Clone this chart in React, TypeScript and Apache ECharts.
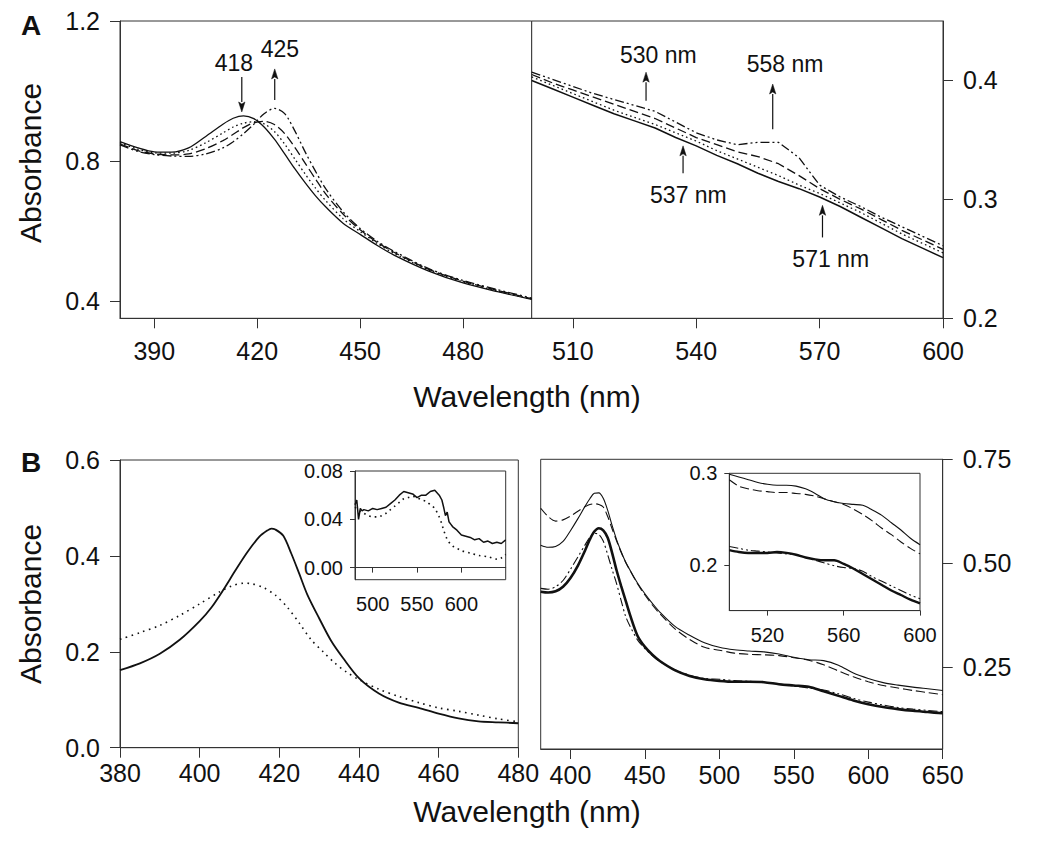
import React, { useEffect, useRef } from 'react';
import * as echarts from 'echarts';

// ---------- Panel A, left (Soret region) ----------
const aLeftNm = [380, 385, 390, 395, 400, 405, 410, 413, 416, 419, 422, 425, 428, 431, 434, 437, 440, 445, 450, 455, 460, 470, 480, 490, 500];
const aLeftSolid = [0.855, 0.838, 0.826, 0.825, 0.837, 0.87, 0.905, 0.922, 0.929, 0.921, 0.897, 0.862, 0.82, 0.777, 0.737, 0.7, 0.668, 0.622, 0.59, 0.558, 0.53, 0.485, 0.451, 0.426, 0.404];
const aLeftDotted = [0.852, 0.834, 0.823, 0.822, 0.83, 0.852, 0.88, 0.897, 0.908, 0.912, 0.906, 0.884, 0.848, 0.805, 0.762, 0.722, 0.686, 0.635, 0.598, 0.564, 0.535, 0.488, 0.454, 0.428, 0.405];
const aLeftDashed = [0.849, 0.83, 0.82, 0.817, 0.82, 0.835, 0.858, 0.876, 0.895, 0.909, 0.913, 0.904, 0.878, 0.838, 0.793, 0.748, 0.705, 0.648, 0.603, 0.567, 0.538, 0.49, 0.456, 0.43, 0.406];
const aLeftDashDot = [0.846, 0.828, 0.818, 0.814, 0.813, 0.82, 0.837, 0.855, 0.878, 0.905, 0.935, 0.95, 0.935, 0.885, 0.825, 0.77, 0.72, 0.655, 0.607, 0.57, 0.541, 0.492, 0.458, 0.432, 0.408];

// ---------- Panel A, right (visible region) ----------
const aRightNm = [500, 505, 510, 515, 520, 525, 530, 535, 540, 545, 550, 555, 560, 565, 570, 575, 580, 585, 590, 595, 600];
const aRightSolid = [0.4, 0.393, 0.386, 0.379, 0.372, 0.366, 0.36, 0.352, 0.345, 0.337, 0.33, 0.322, 0.315, 0.309, 0.302, 0.294, 0.285, 0.276, 0.267, 0.259, 0.251];
const aRightDotted = [0.403, 0.396, 0.389, 0.382, 0.375, 0.369, 0.363, 0.356, 0.349, 0.341, 0.334, 0.327, 0.32, 0.312, 0.305, 0.297, 0.289, 0.28, 0.271, 0.263, 0.255];
const aRightDashed = [0.405, 0.398, 0.392, 0.386, 0.38, 0.374, 0.368, 0.36, 0.352, 0.346, 0.34, 0.336, 0.33, 0.32, 0.309, 0.3, 0.292, 0.283, 0.274, 0.266, 0.258];
const aRightDashDot = [0.407, 0.401, 0.395, 0.389, 0.384, 0.379, 0.374, 0.365, 0.356, 0.35, 0.346, 0.348, 0.348, 0.335, 0.312, 0.302, 0.294, 0.285, 0.277, 0.269, 0.261];

// ---------- Panel B, left ----------
const bLeftSolidNm = [380, 385, 390, 395, 400, 403, 406, 409, 412, 415, 417, 418, 419, 421, 423, 425, 427, 430, 433, 436, 440, 445, 450, 455, 460, 465, 470, 475, 480];
const bLeftSolid = [0.162, 0.176, 0.196, 0.225, 0.264, 0.293, 0.33, 0.37, 0.408, 0.44, 0.453, 0.457, 0.455, 0.442, 0.405, 0.363, 0.32, 0.27, 0.223, 0.187, 0.145, 0.113, 0.094, 0.083, 0.071, 0.061, 0.055, 0.053, 0.051];
const bLeftDottedNm = [380, 385, 390, 395, 400, 405, 408, 411, 413, 416, 419, 422, 425, 428, 431, 434, 437, 440, 445, 450, 455, 460, 465, 470, 475, 480];
const bLeftDotted = [0.226, 0.24, 0.255, 0.276, 0.3, 0.325, 0.337, 0.343, 0.342, 0.334, 0.318, 0.293, 0.26, 0.225, 0.2, 0.176, 0.157, 0.142, 0.122, 0.107, 0.094, 0.083, 0.076, 0.068, 0.06, 0.054];

// inset of panel B left
const bInsetSolidNm = [480, 482, 484, 486, 488, 490, 495, 500, 505, 510, 515, 520, 525, 530, 535, 540, 545, 550, 555, 560, 565, 570, 575, 578, 580, 582, 584, 586, 588, 590, 595, 600, 605, 610, 615, 620, 625, 630, 635, 640, 645, 650];
const bInsetSolid = [0.052, 0.056, 0.04, 0.049, 0.047, 0.048, 0.047, 0.049, 0.048, 0.049, 0.05, 0.053, 0.056, 0.06, 0.063, 0.062, 0.061, 0.058, 0.06, 0.06, 0.063, 0.064, 0.06, 0.056, 0.05, 0.043, 0.046, 0.038, 0.036, 0.034, 0.031, 0.027, 0.026, 0.025, 0.023, 0.024, 0.021, 0.022, 0.02, 0.021, 0.02, 0.023];
const bInsetDottedNm = [480, 485, 490, 495, 500, 505, 510, 515, 520, 525, 530, 535, 540, 545, 550, 555, 560, 565, 570, 575, 578, 580, 583, 585, 590, 595, 600, 610, 620, 630, 640, 645, 650];
const bInsetDotted = [0.05, 0.047, 0.045, 0.043, 0.042, 0.042, 0.043, 0.045, 0.048, 0.051, 0.054, 0.057, 0.058, 0.059, 0.058, 0.056, 0.055, 0.052, 0.049, 0.042, 0.036, 0.031, 0.025, 0.022, 0.018, 0.016, 0.014, 0.012, 0.01, 0.009, 0.007, 0.008, 0.011];

// ---------- Panel B, right ----------
const bRightNm = [380, 385, 390, 395, 400, 405, 410, 413, 416, 419, 422, 425, 428, 431, 434, 437, 440, 445, 450, 455, 460, 470, 480, 490, 500, 510, 520, 530, 540, 550, 560, 570, 580, 590, 600, 610, 620, 630, 640, 650];
const bRightThin = [0.543, 0.538, 0.54, 0.552, 0.578, 0.607, 0.638, 0.655, 0.668, 0.669, 0.656, 0.627, 0.59, 0.556, 0.528, 0.503, 0.483, 0.452, 0.426, 0.403, 0.382, 0.348, 0.326, 0.308, 0.297, 0.291, 0.288, 0.286, 0.281, 0.273, 0.267, 0.265, 0.254, 0.235, 0.222, 0.212, 0.206, 0.201, 0.197, 0.193];
const bRightDashed = [0.632, 0.612, 0.601, 0.604, 0.613, 0.625, 0.636, 0.641, 0.643, 0.641, 0.635, 0.612, 0.582, 0.553, 0.526, 0.502, 0.482, 0.45, 0.423, 0.399, 0.378, 0.342, 0.316, 0.297, 0.29, 0.283, 0.28, 0.279, 0.277, 0.272, 0.266, 0.255, 0.24, 0.226, 0.214, 0.205, 0.199, 0.193, 0.188, 0.183];
const bRightThick = [0.431, 0.429, 0.432, 0.443, 0.464, 0.494, 0.532, 0.557, 0.576, 0.584, 0.579, 0.561, 0.524, 0.482, 0.445, 0.41, 0.375, 0.325, 0.298, 0.279, 0.264, 0.242, 0.228, 0.22, 0.216, 0.214, 0.214, 0.213, 0.208, 0.205, 0.202, 0.191, 0.18, 0.169, 0.16, 0.153, 0.148, 0.144, 0.141, 0.138];
const bRightDashDot = [0.439, 0.437, 0.443, 0.458, 0.485, 0.515, 0.545, 0.562, 0.572, 0.569, 0.553, 0.52, 0.484, 0.45, 0.41, 0.372, 0.348, 0.315, 0.294, 0.277, 0.263, 0.243, 0.23, 0.222, 0.22, 0.217, 0.215, 0.213, 0.209, 0.204, 0.199, 0.194, 0.185, 0.174, 0.165, 0.158, 0.152, 0.148, 0.145, 0.142];

// inset of panel B right
const bInset2Nm = [500, 505, 510, 515, 520, 525, 530, 535, 540, 545, 550, 555, 560, 565, 570, 575, 580, 585, 590, 595, 600];
const bInset2Thin = [0.299, 0.296, 0.293, 0.29, 0.288, 0.287, 0.287, 0.286, 0.283, 0.278, 0.272, 0.269, 0.267, 0.266, 0.265, 0.26, 0.254, 0.246, 0.238, 0.229, 0.222];
const bInset2Dashed = [0.293, 0.286, 0.283, 0.281, 0.28, 0.279, 0.279, 0.278, 0.277, 0.275, 0.272, 0.269, 0.266, 0.261, 0.255, 0.248, 0.24, 0.233, 0.225, 0.218, 0.212];
const bInset2Thick = [0.216, 0.214, 0.213, 0.213, 0.213, 0.214, 0.213, 0.211, 0.208, 0.206, 0.205, 0.205, 0.201, 0.196, 0.19, 0.184, 0.178, 0.172, 0.167, 0.162, 0.158];
const bInset2DashDot = [0.22, 0.218, 0.216, 0.215, 0.214, 0.213, 0.212, 0.211, 0.208, 0.205, 0.202, 0.199, 0.197, 0.196, 0.193, 0.187, 0.182, 0.177, 0.172, 0.167, 0.163];

// ---------- tick values ----------
const aLeftXTicks = [390, 420, 450, 480];
const aRightXTicks = [510, 540, 570, 600];
const aLeftYTicks = [0.4, 0.8, 1.2];
const aRightYTicks = [0.2, 0.3, 0.4];
const bInsetXTicks = [500, 550, 600];
const bInsetYTicks = [0, 0.04, 0.08];
const bRightXTicks = [400, 450, 500, 550, 600, 650];
const bRightYTicks = [0.25, 0.5, 0.75];
const bInset2XTicks = [520, 560, 600];
const bInset2YTicks = [0.2, 0.3];

// ---------- annotations (data coords) ----------
const annotations = [
  { grid: 0, text: '418', tx: 413.2, ty: 1.081, ax: 415.5, y0: 1.04, y1: 0.94 },
  { grid: 0, text: '425', tx: 426.6, ty: 1.121, ax: 425.1, y0: 0.974, y1: 1.063 },
  { grid: 1, text: '530 nm', tx: 530.8, ty: 0.421, ax: 527.8, y0: 0.383, y1: 0.407 },
  { grid: 1, text: '558 nm', tx: 561.6, ty: 0.414, ax: 558.6, y0: 0.359, y1: 0.397 },
  { grid: 1, text: '537 nm', tx: 538.1, ty: 0.304, ax: 536.8, y0: 0.322, y1: 0.345 },
  { grid: 1, text: '571 nm', tx: 572.7, ty: 0.25, ax: 570.7, y0: 0.268, y1: 0.295 },
];

const FONT = '"Liberation Sans", Arial, Helvetica, sans-serif';
const INK = '#111';
const FRAME = '#333';

const zip = (xs: number[], ys: number[]) => xs.map((x, i) => [x, ys[i]]);

const DOT: number[] = [1.6, 3];
const DASH: number[] = [9, 4];
const DASHDOT: number[] = [9, 3, 2, 3, 2, 3];

function line(i: number, data: number[][], type: any, width = 1.3, smooth: number | boolean = 0.3) {
  return {
    type: 'line',
    xAxisIndex: i,
    yAxisIndex: i,
    data,
    symbol: 'none',
    showSymbol: false,
    smooth,
    silent: true,
    clip: true,
    lineStyle: { color: INK, width, type, cap: 'butt' },
  };
}

function xAxis(i: number, min: number, max: number, ticks: number[] | null, opts: any = {}) {
  const small = !!opts.small;
  const ax: any = {
    type: 'value',
    gridIndex: i,
    min,
    max,
    axisLine: { show: true, lineStyle: { color: FRAME, width: 1 } },
    axisTick: { show: true, length: small ? 5 : 10, lineStyle: { color: FRAME, width: 1 } },
    axisLabel: {
      show: true,
      color: INK,
      fontFamily: FONT,
      fontSize: small ? 20 : 25,
      margin: opts.margin != null ? opts.margin : small ? 14 : 20,
      formatter: (v: number) => String(Math.round(v)),
    },
    splitLine: { show: false },
  };
  if (ticks) {
    ax.axisTick.customValues = ticks;
    ax.axisLabel.customValues = ticks;
  } else if (opts.interval) {
    ax.interval = opts.interval;
  }
  return ax;
}

function yAxis(i: number, min: number, max: number, ticks: number[] | null, digits: number, opts: any = {}) {
  const small = !!opts.small;
  const ax: any = {
    type: 'value',
    gridIndex: i,
    min,
    max,
    position: opts.right ? 'right' : 'left',
    axisLine: { show: true, onZero: false, lineStyle: { color: FRAME, width: 1 } },
    axisTick: { show: true, length: small ? 5 : 10, lineStyle: { color: FRAME, width: 1 } },
    axisLabel: {
      show: true,
      color: INK,
      fontFamily: FONT,
      fontSize: small ? 20 : 25,
      margin: small ? 12 : 20,
      formatter: (v: number) => v.toFixed(digits),
    },
    splitLine: { show: false },
  };
  if (ticks) {
    ax.axisTick.customValues = ticks;
    ax.axisLabel.customValues = ticks;
  } else if (opts.interval) {
    ax.interval = opts.interval;
  }
  return ax;
}

const grids = [
  { left: 120, top: 21, width: 411.7, height: 297.3 },
  { left: 531.7, top: 21, width: 411.3, height: 297.3 },
  { left: 120, top: 460, width: 398.3, height: 287.7 },
  { left: 355, top: 471, width: 150.7, height: 108.7 },
  { left: 540.7, top: 459.3, width: 402, height: 289.7 },
  { left: 729.3, top: 473.3, width: 190.7, height: 137.3 },
].map((g) => ({ ...g, show: true, borderColor: FRAME, borderWidth: 1, backgroundColor: '#fff', containLabel: false }));

function staticTexts() {
  const t = (text: string, x: number, y: number, size: number, extra: any = {}) => ({
    type: 'text',
    x,
    y,
    rotation: extra.rotation || 0,
    silent: true,
    z: 100,
    style: {
      text,
      fill: INK,
      font: `${extra.bold ? 'bold ' : ''}${size}px ${FONT}`,
      align: 'center',
      verticalAlign: 'middle',
      textAlign: 'center',
      textVerticalAlign: 'middle',
    },
  });
  return [
    t('A', 31, 25, 28, { bold: true }),
    t('B', 31, 462, 28, { bold: true }),
    t('Absorbance', 30, 163, 30, { rotation: Math.PI / 2 }),
    t('Absorbance', 30, 604, 30, { rotation: Math.PI / 2 }),
    t('Wavelength (nm)', 527, 396, 30),
    t('Wavelength (nm)', 527, 811, 30),
  ];
}

export default function App() {
  const ref = useRef<HTMLDivElement>(null);

  useEffect(() => {
    if (!ref.current) return;
    const chart = echarts.init(ref.current, null, { renderer: 'svg' });

    const option: any = {
      animation: false,
      backgroundColor: '#fff',
      textStyle: { fontFamily: FONT },
      grid: grids,
      xAxis: [
        xAxis(0, 380, 500, aLeftXTicks),
        xAxis(1, 500, 600, aRightXTicks),
        xAxis(2, 380, 480, null, { interval: 20, margin: 13 }),
        xAxis(3, 480, 650, bInsetXTicks, { small: true }),
        xAxis(4, 380, 650, bRightXTicks, { margin: 13 }),
        xAxis(5, 500, 600, bInset2XTicks, { small: true }),
      ],
      yAxis: [
        yAxis(0, 0.35, 1.2, aLeftYTicks, 1),
        yAxis(1, 0.2, 0.45, aRightYTicks, 1, { right: true }),
        yAxis(2, 0, 0.6, null, 1, { interval: 0.2 }),
        yAxis(3, -0.01, 0.08, bInsetYTicks, 2, { small: true }),
        yAxis(4, 0.052, 0.75, bRightYTicks, 2, { right: true }),
        yAxis(5, 0.15, 0.3, bInset2YTicks, 1, { small: true }),
      ],
      series: [
        line(0, zip(aLeftNm, aLeftSolid), 'solid'),
        line(0, zip(aLeftNm, aLeftDotted), DOT),
        line(0, zip(aLeftNm, aLeftDashed), DASH),
        line(0, zip(aLeftNm, aLeftDashDot), DASHDOT),

        line(1, zip(aRightNm, aRightSolid), 'solid', 1.5, false),
        line(1, zip(aRightNm, aRightDotted), DOT, 1.3, false),
        line(1, zip(aRightNm, aRightDashed), DASH, 1.3, false),
        line(1, zip(aRightNm, aRightDashDot), DASHDOT, 1.3, false),

        line(2, zip(bLeftSolidNm, bLeftSolid), 'solid', 1.8),
        line(2, zip(bLeftDottedNm, bLeftDotted), [1.6, 4.5], 1.6),

        line(3, zip(bInsetSolidNm, bInsetSolid), 'solid', 1.5, false),
        line(3, zip(bInsetDottedNm, bInsetDotted), [1.6, 4], 1.6),

        line(4, zip(bRightNm, bRightThin), 'solid', 1.1),
        line(4, zip(bRightNm, bRightDashed), DASH, 1.1),
        line(4, zip(bRightNm, bRightThick), 'solid', 2.6),
        line(4, zip(bRightNm, bRightDashDot), DASHDOT, 1.1),

        line(5, zip(bInset2Nm, bInset2Thin), 'solid', 1.1),
        line(5, zip(bInset2Nm, bInset2Dashed), DASH, 1.1),
        line(5, zip(bInset2Nm, bInset2Thick), 'solid', 2.4),
        line(5, zip(bInset2Nm, bInset2DashDot), DASHDOT, 1.1),
      ],
      graphic: staticTexts(),
    };
    chart.setOption(option);

    // annotations with arrows, placed through the axes
    const extra: any[] = [];
    annotations.forEach((a) => {
      const tp = chart.convertToPixel({ gridIndex: a.grid } as any, [a.tx, a.ty]) as number[];
      const p0 = chart.convertToPixel({ gridIndex: a.grid } as any, [a.ax, a.y0]) as number[];
      const p1 = chart.convertToPixel({ gridIndex: a.grid } as any, [a.ax, a.y1]) as number[];
      if (!tp || !p0 || !p1) return;
      const dir = p1[1] > p0[1] ? 1 : -1; // +1 pointing down
      const headLen = 10;
      const halfW = 3.2;
      const baseY = p1[1] - dir * headLen;
      extra.push({
        type: 'text',
        x: tp[0],
        y: tp[1],
        silent: true,
        z: 100,
        style: {
          text: a.text,
          fill: INK,
          font: `23px ${FONT}`,
          align: 'center',
          verticalAlign: 'middle',
          textAlign: 'center',
          textVerticalAlign: 'middle',
        },
      });
      extra.push({
        type: 'line',
        silent: true,
        z: 100,
        shape: { x1: p0[0], y1: p0[1], x2: p1[0], y2: baseY },
        style: { stroke: INK, lineWidth: 1.2 },
      });
      extra.push({
        type: 'polygon',
        silent: true,
        z: 100,
        shape: {
          points: [
            [p1[0], p1[1]],
            [p1[0] - halfW, baseY],
            [p1[0], baseY + dir * 2],
            [p1[0] + halfW, baseY],
          ],
        },
        style: { fill: INK, stroke: INK, lineWidth: 0.5 },
      });
    });
    chart.setOption({ graphic: [...staticTexts(), ...extra] });

    return () => {
      chart.dispose();
    };
  }, []);

  return (
    <div
      ref={ref}
      style={{ position: 'absolute', left: 0, top: 0, width: 1050, height: 843, background: '#fff' }}
    />
  );
}
